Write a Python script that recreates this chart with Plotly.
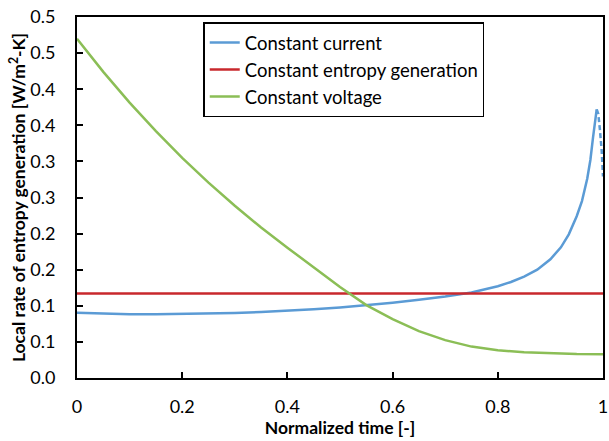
import plotly.graph_objects as go

# Data
cc_x = [0, 0.05, 0.1, 0.15, 0.2, 0.25, 0.3, 0.35, 0.4, 0.45, 0.5, 0.55, 0.6, 0.65, 0.7, 0.75,
        0.8, 0.825, 0.85, 0.875, 0.9, 0.92, 0.935, 0.95, 0.96, 0.97, 0.976, 0.981, 0.985, 0.988]
cc_y = [0.0905, 0.0889, 0.0883, 0.0882, 0.0885, 0.0891, 0.0900, 0.0913, 0.0930, 0.0952, 0.0978,
        0.1008, 0.1043, 0.1083, 0.1128, 0.1185, 0.127, 0.133, 0.1405, 0.150, 0.1645, 0.181,
        0.199, 0.224, 0.245, 0.276, 0.302, 0.333, 0.358, 0.372]
cc_tail_x = [0.988, 0.991, 0.994, 0.9975, 1.0]
cc_tail_y = [0.372, 0.366, 0.345, 0.315, 0.279]

ceg_x = [0, 1]
ceg_y = [0.117, 0.117]

cv_x = [0, 0.05, 0.1, 0.15, 0.2, 0.25, 0.3, 0.35, 0.4, 0.45, 0.5, 0.55, 0.6, 0.65, 0.7, 0.75,
        0.8, 0.85, 0.9, 0.95, 1.0]
cv_y = [0.470, 0.424, 0.3815, 0.342, 0.305, 0.2705, 0.2385, 0.2085, 0.1805, 0.153, 0.126, 0.101,
        0.0815, 0.065, 0.0525, 0.0435, 0.0385, 0.0355, 0.034, 0.0333, 0.033]

x_tickvals = [0, 0.2, 0.4, 0.6, 0.8, 1.0]
x_ticktext = ["0", "0.2", "0.4", "0.6", "0.8", "1"]
y_tickvals = [0, 0.05, 0.1, 0.15, 0.2, 0.25, 0.3, 0.35, 0.4, 0.45, 0.5]
y_ticktext = ["0.0", "0.1", "0.1", "0.2", "0.2", "0.3", "0.3", "0.4", "0.4", "0.5", "0.5"]

BLUE = "#5B9BD5"
RED = "#C8282D"
GREEN = "#8BBE56"

fig = go.Figure()
fig.add_trace(go.Scatter(x=cc_x, y=cc_y, mode="lines", name="Constant current",
                         line=dict(color=BLUE, width=2.5)))
fig.add_trace(go.Scatter(x=cc_tail_x, y=cc_tail_y, mode="lines", showlegend=False,
                         line=dict(color=BLUE, width=2.5, dash="5px,3px")))
fig.add_trace(go.Scatter(x=ceg_x, y=ceg_y, mode="lines", name="Constant entropy generation",
                         line=dict(color=RED, width=2.5)))
fig.add_trace(go.Scatter(x=cv_x, y=cv_y, mode="lines", name="Constant voltage",
                         line=dict(color=GREEN, width=2.5)))

font_family = "Lato, 'Open Sans', sans-serif"
fig.update_layout(
    width=609, height=441,
    margin=dict(l=77, r=6, t=17, b=63),
    paper_bgcolor="white", plot_bgcolor="white",
    font=dict(family=font_family, size=18, color="black"),
    legend=dict(x=0.24, y=0.985, xanchor="left", yanchor="top",
                bordercolor="black", borderwidth=1.5, bgcolor="white",
                font=dict(size=18.5), itemwidth=30, tracegroupgap=0),
    xaxis=dict(range=[0, 1], tickvals=x_tickvals, ticktext=x_ticktext, automargin=False,
               showline=True, linecolor="black", linewidth=2, mirror=True,
               ticks="inside", ticklen=6, tickwidth=1.5, tickcolor="black",
               showgrid=False, zeroline=False, ticklabelstandoff=11,
               title=dict(text="<b>Normalized time [-]</b>", font=dict(size=17.5), standoff=0)),
    yaxis=dict(range=[0, 0.5], tickvals=y_tickvals, ticktext=y_ticktext, automargin=False,
               showline=True, linecolor="black", linewidth=2, mirror=True,
               ticks="inside", ticklen=6, tickwidth=1.5, tickcolor="black",
               showgrid=False, zeroline=False, ticklabelstandoff=16,
               title=dict(text="<b>Local rate of entropy generation [W/m<sup>2</sup>-K]</b>",
                          font=dict(size=17.5), standoff=0)),
)

fig.write_html("out.html")
